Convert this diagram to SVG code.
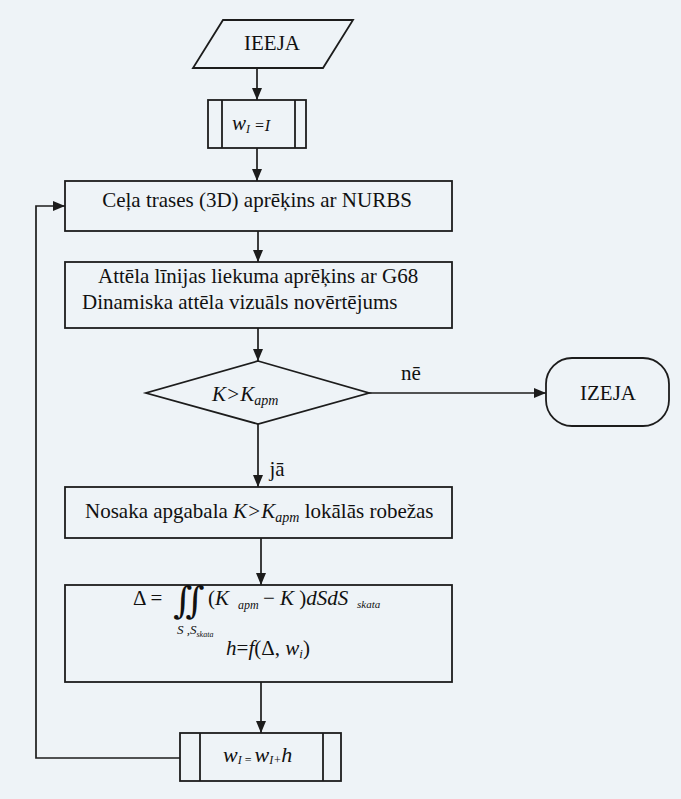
<svg xmlns="http://www.w3.org/2000/svg" width="681" height="799" viewBox="0 0 681 799">
<style>
  .shape { fill: none; stroke: #1c1c1c; stroke-width: 1.8; }
  .line { fill: none; stroke: #1c1c1c; stroke-width: 1.7; }
  .t { font-size: 21px; }
  .i { font-style: italic; }
</style>
<defs>
  <marker id="arr" viewBox="0 0 12 10" refX="12" refY="5" markerWidth="12" markerHeight="10" markerUnits="userSpaceOnUse" orient="auto">
    <path d="M0,0 L12,5 L0,10 Z" fill="#1c1c1c"/>
  </marker>
</defs>
<rect x="0" y="0" width="681" height="799" fill="#eef3f7"/>
<g font-family="'Liberation Serif', 'DejaVu Serif', serif" fill="#111">

<g id="connectors">
  <line class="line" x1="257" y1="68" x2="257" y2="100" marker-end="url(#arr)"/>
  <line class="line" x1="257" y1="148" x2="257" y2="181" marker-end="url(#arr)"/>
  <line class="line" x1="258" y1="231" x2="258" y2="262" marker-end="url(#arr)"/>
  <line class="line" x1="258" y1="328" x2="258" y2="361" marker-end="url(#arr)"/>
  <line class="line" x1="369" y1="393" x2="546" y2="393" marker-end="url(#arr)"/>
  <line class="line" x1="258" y1="424" x2="258" y2="487" marker-end="url(#arr)"/>
  <line class="line" x1="261" y1="538" x2="261" y2="585" marker-end="url(#arr)"/>
  <line class="line" x1="261" y1="682" x2="261" y2="733" marker-end="url(#arr)"/>
  <polyline class="line" points="180,758 36,758 36,206 65,206" marker-end="url(#arr)"/>
  <text class="t" x="411" y="380" text-anchor="middle">nē</text>
  <text class="t" x="277" y="476" text-anchor="middle">jā</text>
</g>

<g id="start">
  <polygon class="shape" points="223,20 353,20 323,68 193,68"/>
  <text class="t" x="272" y="50" text-anchor="middle">IEEJA</text>
</g>

<g id="init">
  <rect class="shape" x="208" y="100" width="98" height="48"/>
  <line class="shape" x1="222" y1="100" x2="222" y2="148"/>
  <line class="shape" x1="295" y1="100" x2="295" y2="148"/>
  <text x="232" y="130"><tspan class="i" font-size="21">w</tspan><tspan class="i" font-size="12" dy="3">I</tspan><tspan class="i" font-size="16" dy="-2"> =I</tspan></text>
</g>

<g id="path-calc">
  <rect class="shape" x="65" y="181" width="387" height="50"/>
  <text class="t" x="257" y="207" text-anchor="middle">Ceļa trases (3D) aprēķins ar NURBS</text>
</g>

<g id="curvature">
  <rect class="shape" x="65" y="262" width="387" height="66"/>
  <text class="t" x="98" y="283">Attēla līnijas liekuma aprēķins ar G68</text>
  <text class="t" x="82" y="309">Dinamiska attēla vizuāls novērtējums</text>
</g>

<g id="decision">
  <polygon class="shape" points="258,361 369,393 258,424 146,393"/>
  <text x="212" y="401"><tspan class="i" font-size="21">K&gt;K</tspan><tspan class="i" font-size="14" dy="4">apm</tspan></text>
</g>

<g id="exit">
  <rect class="shape" x="546" y="358" width="123" height="68" rx="26" ry="26"/>
  <text class="t" x="608" y="400" text-anchor="middle">IZEJA</text>
</g>

<g id="bounds">
  <rect class="shape" x="65" y="487" width="387" height="51"/>
  <text class="t" x="85" y="518">Nosaka apgabala <tspan class="i">K&gt;K</tspan><tspan class="i" font-size="14" dy="4">apm</tspan><tspan dy="-4"> lokālās robežas</tspan></text>
</g>

<g id="formula">
  <rect class="shape" x="65" y="585" width="387" height="97"/>
  <text class="t" x="133" y="605">Δ =</text>
  <text x="173" y="613" font-size="37" font-family="'DejaVu Serif', serif">∬</text>
  <text class="t" x="208" y="605">(<tspan class="i">K</tspan></text>
  <text class="i" x="238" y="609" font-size="12">apm</text>
  <text class="t" x="263" y="605">− <tspan class="i">K</tspan> )<tspan class="i">dSdS</tspan></text>
  <text class="i" x="357" y="608" font-size="11">skata</text>
  <text x="177" y="634"><tspan class="i" font-size="13">S ,S</tspan><tspan class="i" font-size="8" dy="3">skata</tspan></text>
  <text class="t" x="268" y="655" text-anchor="middle"><tspan class="i">h</tspan>=<tspan class="i">f</tspan>(Δ, <tspan class="i">w</tspan><tspan class="i" font-size="13" dy="3">i</tspan><tspan dy="-3">)</tspan></text>
</g>

<g id="update">
  <rect class="shape" x="180" y="733" width="161" height="48"/>
  <line class="shape" x1="200" y1="733" x2="200" y2="781"/>
  <line class="shape" x1="323" y1="733" x2="323" y2="781"/>
  <text x="223" y="762"><tspan class="i" font-size="22">w</tspan><tspan class="i" font-size="12" dy="2">I</tspan><tspan font-size="12"> = </tspan><tspan class="i" font-size="22" dy="-2">w</tspan><tspan class="i" font-size="12" dy="2">I+</tspan><tspan class="i" font-size="22" dy="-2">h</tspan></text>
</g>
</g>
</svg>
